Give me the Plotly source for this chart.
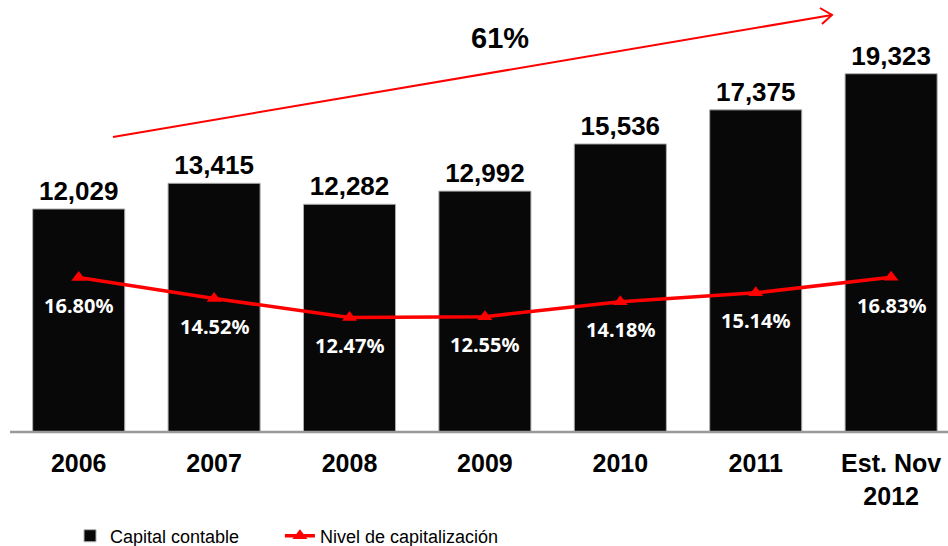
import plotly.graph_objects as go

categories = ["2006", "2007", "2008", "2009", "2010", "2011", "Est. Nov<br>2012"]
capital = [12029, 13415, 12282, 12992, 15536, 17375, 19323]
nivel = [16.80, 14.52, 12.47, 12.55, 14.18, 15.14, 16.83]
growth_label = "61%"

FONT = "Liberation Sans"

fig = go.Figure()
fig.add_trace(go.Bar(
    x=categories, y=capital, name="Capital contable",
    marker=dict(color="#080808", line=dict(color="#b0b0b0", width=1)),
    width=0.68,
    text=[f"{v:,}" for v in capital], textposition="outside",
    textfont=dict(family=FONT, size=26, color="#000", weight="bold"),
    cliponaxis=False, yaxis="y", legend="legend",
))
fig.add_trace(go.Scatter(
    x=categories, y=nivel, name="Nivel de capitalización",
    mode="lines+markers", yaxis="y2", legend="legend2",
    line=dict(color="#ff0000", width=3.5),
    marker=dict(symbol="triangle-up", size=13, color="#ff0000"),
))

annotations = []
for i, v in enumerate(nivel):
    annotations.append(dict(
        x=i, y=v, xref="x", yref="y2", yshift=-28, showarrow=False,
        text=f"{v:.2f}%", font=dict(family="Noto Sans", size=20, color="white", weight="bold"),
    ))
annotations.append(dict(
    x=(500 - 11) / 937, y=1 - 38 / 432, xref="paper", yref="paper", showarrow=False,
    xanchor="center", yanchor="middle",
    text=growth_label, font=dict(family=FONT, size=29, color="#000", weight="bold"),
))

legend_font = dict(family=FONT, size=18, color="#000")
fig.update_layout(
    width=948, height=546,
    margin=dict(l=11, r=0, t=0, b=114, autoexpand=False),
    paper_bgcolor="white", plot_bgcolor="white",
    showlegend=True,
    legend=dict(orientation="h", x=0.063, y=-0.198, xanchor="left", yanchor="top",
                font=legend_font),
    legend2=dict(orientation="h", x=0.287, y=-0.198, xanchor="left", yanchor="top",
                 font=legend_font),
    xaxis=dict(range=[-0.5, 6.42], showgrid=False, showline=False, ticks="",
               ticklabelstandoff=14,
               tickfont=dict(family=FONT, size=25, color="#000", weight="bold")),
    yaxis=dict(range=[0, 23300], visible=False, showgrid=False),
    yaxis2=dict(range=[0, 47], overlaying="y", side="right", visible=False, showgrid=False),
    annotations=annotations,
    shapes=[
        dict(type="line", xref="paper", yref="paper", x0=-0.001, x1=1.0, y0=0, y1=0,
             line=dict(color="#999999", width=2.5)),
        dict(type="line", xref="paper", yref="paper",
             x0=(113 - 11) / 937, y0=(432 - 137) / 432, x1=(832 - 11) / 937, y1=(432 - 15) / 432,
             line=dict(color="#ff0000", width=2)),
        dict(type="path", xref="paper", yref="paper",
             path="M {:.4f},{:.4f} L {:.4f},{:.4f} L {:.4f},{:.4f}".format(
                 (820 - 11) / 937, (432 - 8) / 432,
                 (832 - 11) / 937, (432 - 15) / 432,
                 (822 - 11) / 937, (432 - 24) / 432),
             line=dict(color="#ff0000", width=2)),
    ],
)

fig.write_html("out.html", config={"displayModeBar": False},
               post_script="document.body.style.margin='0';document.body.style.overflow='hidden';")
